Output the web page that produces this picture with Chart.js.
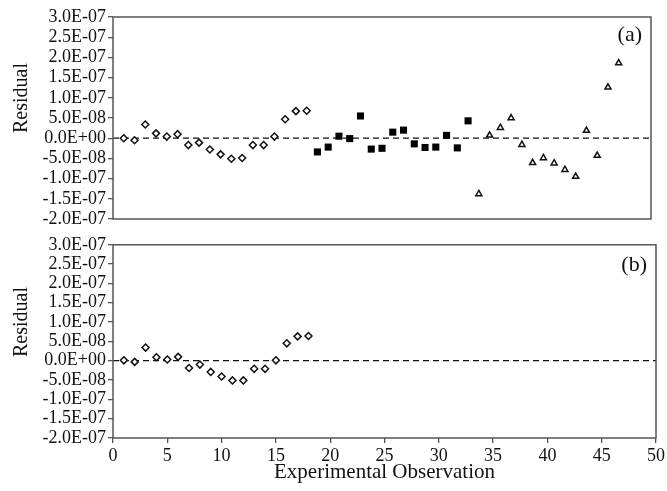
<!DOCTYPE html>
<html>
<head>
<meta charset="utf-8">
<script src="https://cdn.jsdelivr.net/npm/chart.js@4/dist/chart.umd.min.js"></script>
<style>
    body { margin: 0; background: #fff; }
    canvas { position: absolute; left: 0; }
</style>
</head>
<body>
<canvas id="panel-a" width="667" height="232" style="top:0"></canvas>
<canvas id="panel-b" width="667" height="259" style="top:232px"></canvas>
<script>
// observation numbers
const obsDiamond = [1, 2, 3, 4, 5, 6, 7, 8, 9, 10, 11, 12, 13, 14, 15, 16, 17, 18];
const obsSquare = [19, 20, 21, 22, 23, 24, 25, 26, 27, 28, 29, 30, 31, 32, 33];
const obsTriangle = [34, 35, 36, 37, 38, 39, 40, 41, 42, 43, 44, 45, 46, 47];

// panel (a) residuals
const resDiamondA = [0.0e-8, -0.5e-8, 3.4e-8, 1.2e-8, 0.4e-8, 1.0e-8, -1.7e-8, -1.1e-8, -2.8e-8,
    -4.0e-8, -5.1e-8, -4.9e-8, -1.7e-8, -1.7e-8, 0.4e-8, 4.7e-8, 6.7e-8, 6.8e-8];
const resSquareA = [-3.4e-8, -2.2e-8, 0.5e-8, -0.1e-8, 5.5e-8, -2.7e-8, -2.5e-8, 1.5e-8, 2.0e-8,
    -1.4e-8, -2.3e-8, -2.2e-8, 0.7e-8, -2.4e-8, 4.3e-8];
const resTriangleA = [-13.8e-8, 0.7e-8, 2.6e-8, 5.0e-8, -1.6e-8, -6.1e-8, -4.9e-8, -6.2e-8, -7.8e-8,
    -9.5e-8, 1.9e-8, -4.3e-8, 12.6e-8, 18.6e-8];

// panel (b) residuals
const resDiamondB = [0.1e-8, -0.3e-8, 3.4e-8, 0.9e-8, 0.3e-8, 1.0e-8, -1.9e-8, -1.0e-8, -2.9e-8,
    -4.1e-8, -5.1e-8, -5.1e-8, -2.1e-8, -2.1e-8, 0.1e-8, 4.5e-8, 6.3e-8, 6.4e-8];

const yTicks = [-2.0e-7, -1.5e-7, -1.0e-7, -0.5e-7, 0, 0.5e-7, 1.0e-7, 1.5e-7, 2.0e-7, 2.5e-7, 3.0e-7];
const xTicks = [0, 5, 10, 15, 20, 25, 30, 35, 40, 45, 50];
const zeroLine = [0, 50];

const serif = '"Liberation Serif", "Times New Roman", serif';

function sci(v) {
    const parts = v.toExponential(1).split('e');
    const n = parseInt(parts[1], 10);
    return parts[0] + 'E' + (n < 0 ? '-' : '+') + String(Math.abs(n)).padStart(2, '0');
}

function pts(xs, ys) {
    return xs.map((x, i) => ({ x: x, y: ys[i] }));
}

const framePlugin = {
    id: 'frame',
    afterDatasetsDraw(chart, args, opts) {
        const ctx = chart.ctx;
        const a = chart.chartArea;
        ctx.save();
        ctx.strokeStyle = '#555';
        ctx.lineWidth = 1.5;
        ctx.strokeRect(a.left, a.top, a.right - a.left, a.bottom - a.top);
        ctx.fillStyle = '#111';
        ctx.font = '22px ' + serif;
        ctx.textAlign = 'right';
        ctx.textBaseline = 'middle';
        ctx.fillText(opts.tag, a.right - 9, a.top + opts.tagOffset);
        ctx.translate(22, opts.titleY);
        ctx.rotate(-Math.PI / 2);
        ctx.textAlign = 'center';
        ctx.font = '20px ' + serif;
        ctx.fillText('Residual', 0, 0);
        ctx.restore();
    }
};

function makePanel(id, datasets, bottomAxis, frame, padding) {
    const ctx = document.getElementById(id).getContext('2d');
    return new Chart(ctx, {
        type: 'scatter',
        data: {
            datasets: [{
                type: 'line',
                data: pts(zeroLine, [0, 0]),
                borderColor: '#111',
                borderWidth: 1.3,
                borderDash: [6, 4],
                pointRadius: 0,
                order: 10,
            }].concat(datasets)
        },
        options: {
            responsive: false,
            animation: false,
            layout: { padding: padding },
            plugins: {
                legend: { display: false },
                tooltip: { enabled: false },
                frame: frame,
            },
            scales: {
                x: {
                    type: 'linear',
                    min: 0,
                    max: 50,
                    border: { display: false },
                    grid: {
                        drawOnChartArea: false,
                        drawTicks: bottomAxis,
                        tickLength: 5,
                        tickColor: '#555',
                        lineWidth: 1.3,
                    },
                    afterBuildTicks: scale => {
                        scale.ticks = xTicks.map(v => ({ value: v }));
                    },
                    ticks: {
                        display: bottomAxis,
                        autoSkip: false,
                        maxRotation: 0,
                        padding: 2,
                        color: '#111',
                        font: { family: serif, size: 18 },
                    },
                    title: {
                        display: bottomAxis,
                        text: 'Experimental Observation',
                        color: '#111',
                        font: { family: serif, size: 21 },
                        padding: { top: 0, bottom: 6 },
                    },
                    afterFit: scale => { scale.height = bottomAxis ? 53 : 13; }
                },
                y: {
                    type: 'linear',
                    min: -2.0e-7,
                    max: 3.0e-7,
                    border: { display: false },
                    grid: {
                        drawOnChartArea: false,
                        tickLength: 5,
                        tickColor: '#555',
                        lineWidth: 1.3,
                    },
                    afterBuildTicks: scale => {
                        scale.ticks = yTicks.map(v => ({ value: v }));
                    },
                    ticks: {
                        autoSkip: false,
                        padding: 2,
                        color: '#111',
                        font: { family: serif, size: 18 },
                        callback: v => sci(v),
                    },
                    afterFit: scale => { scale.width = 113; }
                }
            }
        },
        plugins: [framePlugin]
    });
}

const diamondStyle = {
    pointStyle: 'rectRot',
    pointRadius: 3.5,
    pointBorderWidth: 1.5,
    borderColor: '#111',
    backgroundColor: '#fff',
};

makePanel('panel-a', [
    Object.assign({ data: pts(obsDiamond, resDiamondA) }, diamondStyle),
    {
        data: pts(obsSquare, resSquareA),
        pointStyle: 'rect',
        pointRadius: 5,
        pointBorderWidth: 0,
        borderColor: '#000',
        backgroundColor: '#000',
    },
    {
        data: pts(obsTriangle, resTriangleA),
        pointStyle: 'triangle',
        pointRadius: 3.5,
        pointBorderWidth: 1.5,
        borderColor: '#111',
        backgroundColor: '#fff',
    }
], false, { tag: '(a)', tagOffset: 18, titleY: 98 }, { top: 17, right: 16, left: 0, bottom: 0 });

makePanel('panel-b', [
    Object.assign({ data: pts(obsDiamond, resDiamondB) }, diamondStyle)
], true, { tag: '(b)', tagOffset: 20, titleY: 90 }, { top: 12, right: 10, left: 0, bottom: 0 });
</script>
</body>
</html>
